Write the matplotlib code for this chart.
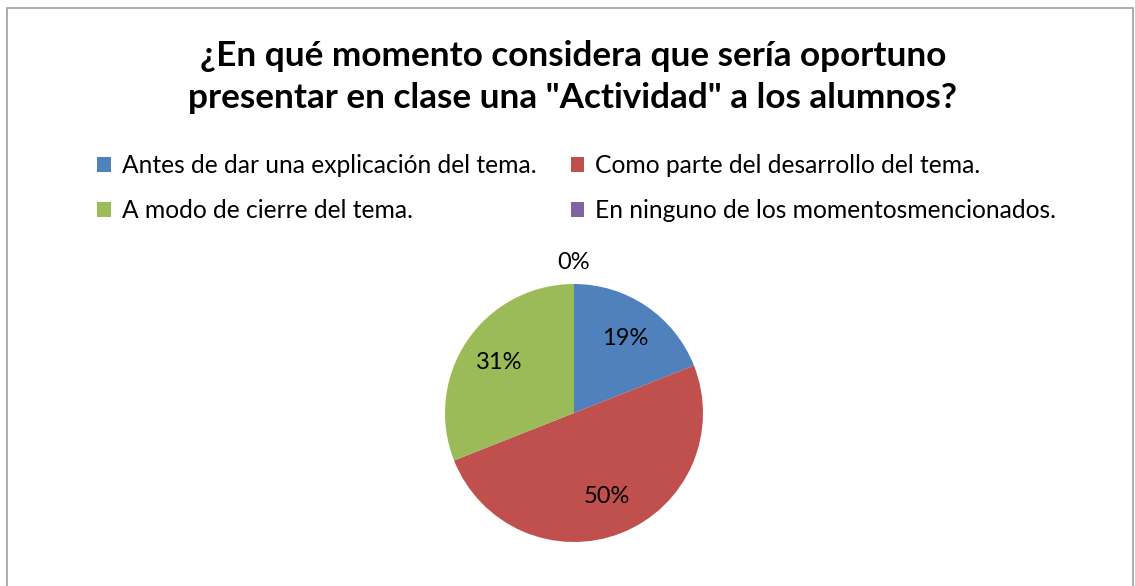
import numpy as np
import matplotlib
matplotlib.use("Agg")
import matplotlib.pyplot as plt
from matplotlib.patches import Rectangle, Patch

plt.rcParams["font.family"] = ["Lato", "DejaVu Sans"]

TITLE = '¿En qué momento considera que sería oportuno\npresentar en clase una "Actividad" a los alumnos?'
CATEGORIES = [
    "Antes de dar una explicación del tema.",
    "Como parte del desarrollo del tema.",
    "A modo de cierre del tema.",
    "En ninguno de los momentosmencionados.",
]
VALUES = [19, 50, 31, 0]
COLORS = ["#4F81BD", "#C0504D", "#9BBB59", "#8064A2"]

W, H = 1135, 586
fig = plt.figure(figsize=(W / 100, H / 100), dpi=100)

# borde del gráfico
fig.patches.append(Rectangle((7 / W, -0.01), (1133 - 7) / W, 1 - 8 / H + 0.01,
                             transform=fig.transFigure, fill=False,
                             edgecolor="#A0A0A0", linewidth=1.2))

fig.text(573 / W, 1 - 77 / H, TITLE, ha="center", va="center",
         fontsize=25.3, fontweight="bold", linespacing=1.35)

# tarta
r_px = 129
cx, cy = 574, 413
ax = fig.add_axes([(cx - r_px) / W, 1 - (cy + r_px) / H, 2 * r_px / W, 2 * r_px / H])
wedges, texts, autotexts = ax.pie(VALUES, colors=COLORS, startangle=90, counterclock=False,
                                  autopct="%1.0f%%", pctdistance=0.7, radius=1,
                                  textprops={"fontsize": 17})
ax.set_xlim(-1, 1)
ax.set_ylim(-1, 1)
for w, t, v in zip(wedges, autotexts, VALUES):
    if v == 0:
        ang = np.deg2rad((w.theta1 + w.theta2) / 2)
        t.set_position((1.17 * np.cos(ang), 1.17 * np.sin(ang)))

# leyenda en dos columnas (orden por filas)
handles = [Patch(facecolor=c, label=l) for c, l in zip(COLORS, CATEGORIES)]
order = [0, 2, 1, 3]
fig.legend([handles[i] for i in order], [CATEGORIES[i] for i in order],
           ncol=2, loc="upper left", bbox_to_anchor=(80 / W, 1 - 137 / H),
           frameon=False, fontsize=17.7, handlelength=0.55, handleheight=0.55,
           handletextpad=0.45, columnspacing=1.4, labelspacing=0.9,
           borderpad=0.2)

fig.savefig("out.png", dpi=100)
